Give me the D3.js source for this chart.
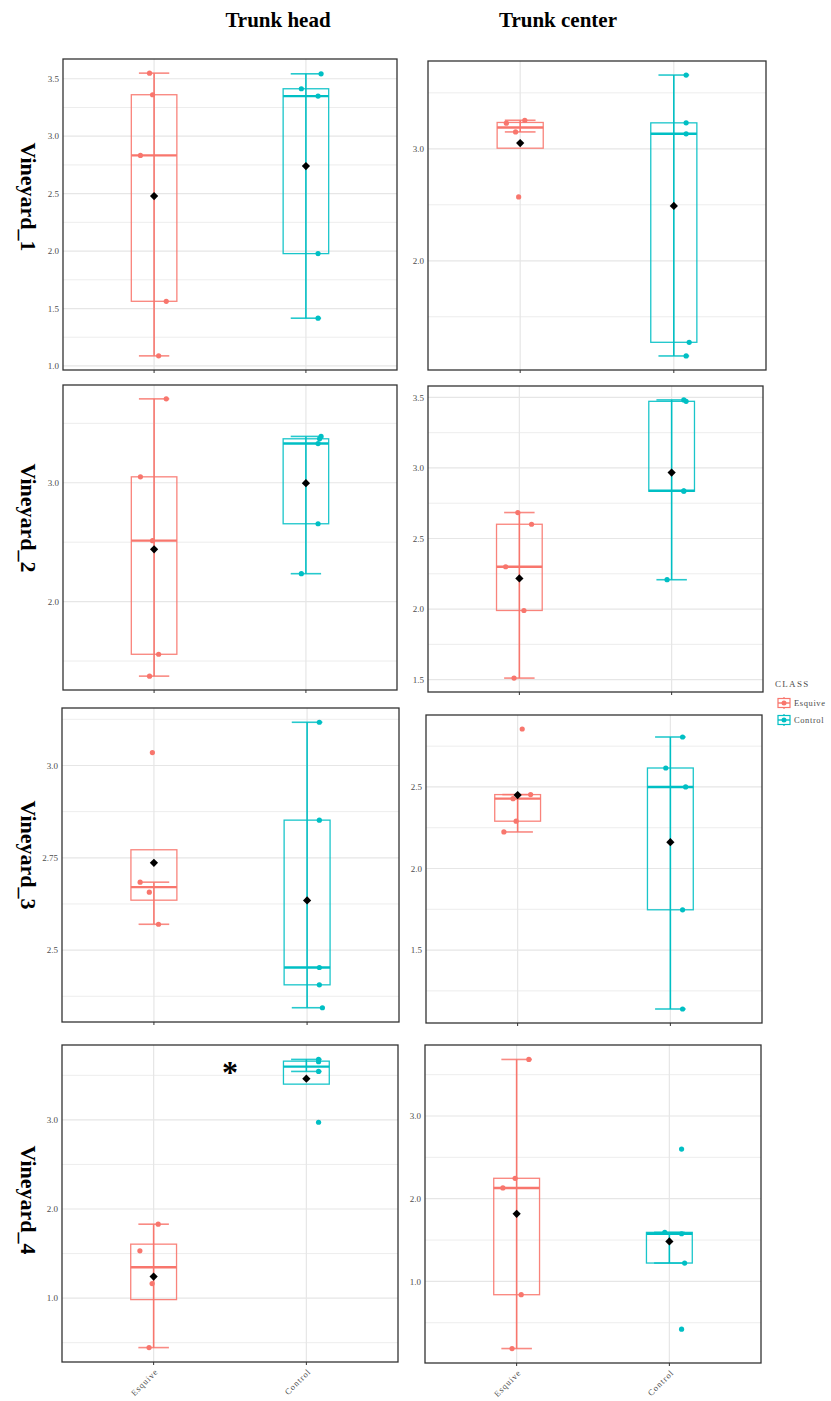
<!DOCTYPE html>
<html><head><meta charset="utf-8">
<script src="https://cdn.jsdelivr.net/npm/d3@7"></script>
<style>body{margin:0;background:#fff}</style>
</head><body>
<svg id="c" width="831" height="1401"></svg>
<script>
// ---------- data ----------
const classes = ["Esquive", "Control"];
const vineyards = ["Vineyard_1", "Vineyard_2", "Vineyard_3", "Vineyard_4"];
const tissues = ["Trunk head", "Trunk center"];
const classColors = ["#F8766D", "#00BFC4"];

const v1HeadEsquive   = [3.549, 3.361, 2.833, 1.563, 1.088];
const v1HeadControl   = [3.543, 3.413, 3.349, 1.978, 1.416];
const v1CenterEsquive = [3.255, 3.229, 3.151, 2.570];
const v1CenterControl = [3.659, 3.232, 3.134, 1.272, 1.150];
const v2HeadEsquive   = [3.706, 3.050, 2.513, 1.557, 1.373];
const v2HeadControl   = [3.390, 3.370, 3.330, 2.655, 2.235];
const v2CenterEsquive = [2.684, 2.601, 2.300, 1.990, 1.511];
const v2CenterControl = [3.482, 3.472, 2.838, 2.835, 2.208];
const v3HeadEsquive   = [3.035, 2.684, 2.657, 2.570];
const v3HeadControl   = [3.117, 2.852, 2.453, 2.406, 2.344];
const v3CenterEsquive = [2.855, 2.453, 2.428, 2.290, 2.224];
const v3CenterControl = [2.806, 2.616, 2.500, 1.747, 1.139];
const v4HeadEsquive   = [1.830, 1.531, 1.163, 0.445];
const v4HeadControl   = [3.679, 3.653, 3.544, 2.974];
const v4CenterEsquive = [3.684, 2.247, 2.130, 0.839, 0.188];
const v4CenterControl = [2.600, 1.593, 1.576, 1.222, 0.422];

// horizontal jitter of each point (in category units)
const v1HeadEsquiveJit   = [-0.03, -0.01, -0.09, 0.08, 0.03];
const v1HeadControlJit   = [0.10, -0.03, 0.08, 0.08, 0.08];
const v1CenterEsquiveJit = [0.03, -0.09, -0.03, -0.01];
const v1CenterControlJit = [0.08, 0.08, 0.08, 0.10, 0.08];
const v2HeadEsquiveJit   = [0.08, -0.09, -0.01, 0.03, -0.03];
const v2HeadControlJit   = [0.10, 0.09, 0.08, 0.08, -0.03];
const v2CenterEsquiveJit = [-0.01, 0.08, -0.09, 0.03, -0.035];
const v2CenterControlJit = [0.08, 0.095, 0.08, 0.08, -0.03];
const v3HeadEsquiveJit   = [-0.01, -0.09, -0.03, 0.03];
const v3HeadControlJit   = [0.08, 0.08, 0.08, 0.08, 0.10];
const v3CenterEsquiveJit = [0.03, 0.085, -0.03, -0.01, -0.09];
const v3CenterControlJit = [0.08, -0.03, 0.10, 0.08, 0.08];
const v4HeadEsquiveJit   = [0.03, -0.09, -0.01, -0.03];
const v4HeadControlJit   = [0.08, 0.08, 0.08, 0.08];
const v4CenterEsquiveJit = [0.08, -0.01, -0.09, 0.03, -0.03];
const v4CenterControlJit = [0.08, -0.03, 0.08, 0.10, 0.08];

// y-axis breaks per panel (row-major: V1 head, V1 center, V2 head, ...)
const yMajor = [[1, 1.5, 2, 2.5, 3, 3.5], [2, 3], [2, 3], [1.5, 2, 2.5, 3, 3.5],
                [2.5, 2.75, 3], [1.5, 2, 2.5], [1, 2, 3], [1, 2, 3]];
const yLabels = [["1.0","1.5","2.0","2.5","3.0","3.5"], ["2.0","3.0"], ["2.0","3.0"], ["1.5","2.0","2.5","3.0","3.5"],
                 ["2.5","2.75","3.0"], ["1.5","2.0","2.5"], ["1.0","2.0","3.0"], ["1.0","2.0","3.0"]];
const yMinor = [[1.25, 1.75, 2.25, 2.75, 3.25], [1.5, 2.5, 3.5], [1.5, 2.5, 3.5], [1.75, 2.25, 2.75, 3.25],
                [2.375, 2.625, 2.875, 3.125], [1.25, 1.75, 2.25, 2.75], [0.5, 1.5, 2.5, 3.5], [0.5, 1.5, 2.5, 3.5]];
const signif = ["", "", "", "", "", "", "*", ""];

// ---------- layout ----------
const panelValues = [
  [v1HeadEsquive, v1HeadControl], [v1CenterEsquive, v1CenterControl],
  [v2HeadEsquive, v2HeadControl], [v2CenterEsquive, v2CenterControl],
  [v3HeadEsquive, v3HeadControl], [v3CenterEsquive, v3CenterControl],
  [v4HeadEsquive, v4HeadControl], [v4CenterEsquive, v4CenterControl]];
const panelJit = [
  [v1HeadEsquiveJit, v1HeadControlJit], [v1CenterEsquiveJit, v1CenterControlJit],
  [v2HeadEsquiveJit, v2HeadControlJit], [v2CenterEsquiveJit, v2CenterControlJit],
  [v3HeadEsquiveJit, v3HeadControlJit], [v3CenterEsquiveJit, v3CenterControlJit],
  [v4HeadEsquiveJit, v4HeadControlJit], [v4CenterEsquiveJit, v4CenterControlJit]];
const rects = [
  [63, 397, 59, 370], [428, 766, 61, 370],
  [63, 397, 385, 690], [428, 763, 386, 692],
  [62, 399, 708, 1022], [426, 762, 715, 1023],
  [62, 398, 1045, 1362], [425, 761, 1045, 1363]];

const svg = d3.select("#c");
const serif = "'Liberation Serif','Times New Roman',serif";

function stats(vals) {
  const s = vals.slice().sort(d3.ascending);
  const q1 = d3.quantile(s, 0.25), med = d3.quantile(s, 0.5), q3 = d3.quantile(s, 0.75);
  const iqr = q3 - q1;
  const lo = d3.min(s.filter(v => v >= q1 - 1.5 * iqr));
  const hi = d3.max(s.filter(v => v <= q3 + 1.5 * iqr));
  return {q1, med, q3, lo, hi, mean: d3.mean(s)};
}

panelValues.forEach((groups, pi) => {
  const [x0, x1, y0, y1] = rects[pi];
  const row = Math.floor(pi / 2);
  const all = groups.flat();
  const ext = d3.extent(all);
  const pad = (ext[1] - ext[0]) * 0.05;
  const y = d3.scaleLinear().domain([ext[0] - pad, ext[1] + pad]).range([y1, y0]);
  const x = d3.scaleLinear().domain([0.4, 2.6]).range([x0, x1]);
  const g = svg.append("g");

  // grid
  g.selectAll(".mn").data(yMinor[pi]).join("line")
    .attr("x1", x0).attr("x2", x1).attr("y1", d => y(d)).attr("y2", d => y(d))
    .attr("stroke", "#ebebeb").attr("stroke-width", 0.9);
  g.selectAll(".mj").data(yMajor[pi]).join("line")
    .attr("x1", x0).attr("x2", x1).attr("y1", d => y(d)).attr("y2", d => y(d))
    .attr("stroke", "#e6e6e6").attr("stroke-width", 1.2);
  g.selectAll(".vx").data([1, 2]).join("line")
    .attr("x1", d => x(d)).attr("x2", d => x(d)).attr("y1", y0).attr("y2", y1)
    .attr("stroke", "#e6e6e6").attr("stroke-width", 1.2);

  // y labels
  g.selectAll(".yl").data(yMajor[pi]).join("text")
    .attr("x", x0 - 4).attr("y", d => y(d)).attr("dy", "0.35em")
    .attr("text-anchor", "end").attr("font-family", serif).attr("font-size", 9)
    .attr("fill", "#4d4d4d").text((d, i) => yLabels[pi][i]);

  // x ticks
  g.selectAll(".xt").data([1, 2]).join("line")
    .attr("x1", d => x(d)).attr("x2", d => x(d)).attr("y1", y1).attr("y2", y1 + 3)
    .attr("stroke", "#333").attr("stroke-width", 1);

  groups.forEach((vals, ci) => {
    const st = stats(vals);
    const cx = ci + 1, col = classColors[ci];
    // errorbar (whiskers)
    g.append("line").attr("x1", x(cx)).attr("x2", x(cx)).attr("y1", y(st.lo)).attr("y2", y(st.hi))
      .attr("stroke", col).attr("stroke-width", 1.6);
    [st.lo, st.hi].forEach(v => g.append("line")
      .attr("x1", x(cx - 0.1)).attr("x2", x(cx + 0.1)).attr("y1", y(v)).attr("y2", y(v))
      .attr("stroke", col).attr("stroke-width", 1.6).attr("stroke-opacity", 0.85));
    // box
    g.append("rect").attr("x", x(cx - 0.15)).attr("width", x(cx + 0.15) - x(cx - 0.15))
      .attr("y", y(st.q3)).attr("height", y(st.q1) - y(st.q3))
      .attr("fill", "none").attr("stroke", col).attr("stroke-width", 1.3).attr("stroke-opacity", 0.9);
    g.append("line").attr("x1", x(cx - 0.15)).attr("x2", x(cx + 0.15)).attr("y1", y(st.med)).attr("y2", y(st.med))
      .attr("stroke", col).attr("stroke-width", 2.4);
    // jittered points
    g.selectAll(null).data(vals).join("circle")
      .attr("cx", (d, i) => x(cx + panelJit[pi][ci][i])).attr("cy", d => y(d))
      .attr("r", 2.6).attr("fill", col);
    // mean
    g.append("path").attr("d", d3.symbol(d3.symbolSquare, 34)())
      .attr("transform", `translate(${x(cx)},${y(st.mean)}) rotate(45)`).attr("fill", "#000");
  });

  // significance mark
  const mark = signif[pi];
  if (mark) {
    const topV = d3.max(groups[1]);
    g.append("text").attr("x", x(1.5)).attr("y", y(topV) + 24)
      .attr("text-anchor", "middle").attr("font-family", serif).attr("font-weight", "bold")
      .attr("font-size", 32).attr("fill", "#000").text(mark);
  }

  // border
  g.append("rect").attr("x", x0).attr("y", y0).attr("width", x1 - x0).attr("height", y1 - y0)
    .attr("fill", "none").attr("stroke", "#333").attr("stroke-width", 1.3);

  // x labels (bottom row only)
  if (row === 3) {
    g.selectAll(".xl").data(classes).join("text")
      .attr("transform", (d, i) => `translate(${x(i + 1) + 3},${y1 + 8}) rotate(-45)`)
      .attr("text-anchor", "end").attr("font-family", serif).attr("font-size", 8.5)
      .attr("letter-spacing", 1.0).attr("fill", "#4d4d4d").attr("dy", "0.35em").text(d => d);
  }
});

// column titles
const titleX = [278, 558];
svg.selectAll(".ct").data(tissues).join("text")
  .attr("x", (d, i) => titleX[i]).attr("y", 27).attr("text-anchor", "middle")
  .attr("font-family", serif).attr("font-weight", "bold").attr("font-size", 21).text(d => d);

// row labels
const rowY = [197, 518, 855, 1200];
svg.selectAll(".rl").data(vineyards).join("text")
  .attr("transform", (d, i) => `translate(28,${rowY[i]}) rotate(90)`)
  .attr("text-anchor", "middle").attr("dominant-baseline", "central")
  .attr("font-family", serif).attr("font-weight", "bold").attr("font-size", 22).text(d => d);

// legend
const lg = svg.append("g");
lg.append("text").attr("x", 775).attr("y", 687).attr("font-family", serif).attr("font-size", 9)
  .attr("letter-spacing", 1.3).attr("fill", "#4d4d4d").text("CLASS");
classes.forEach((c, i) => {
  const cy = 703 + i * 17, col = classColors[i];
  lg.append("line").attr("x1", 784).attr("x2", 784).attr("y1", cy - 6).attr("y2", cy + 6)
    .attr("stroke", col).attr("stroke-width", 1.2);
  lg.append("rect").attr("x", 778).attr("y", cy - 4.5).attr("width", 12).attr("height", 9)
    .attr("fill", "#fff").attr("stroke", col).attr("stroke-width", 1.2);
  lg.append("line").attr("x1", 778).attr("x2", 790).attr("y1", cy).attr("y2", cy)
    .attr("stroke", col).attr("stroke-width", 1.4);
  lg.append("circle").attr("cx", 784).attr("cy", cy).attr("r", 2.5).attr("fill", col);
  lg.append("text").attr("x", 794).attr("y", cy).attr("dy", "0.35em").attr("font-family", serif)
    .attr("font-size", 8.5).attr("letter-spacing", 0.6).attr("fill", "#4d4d4d").text(c);
});
</script>
</body></html>
